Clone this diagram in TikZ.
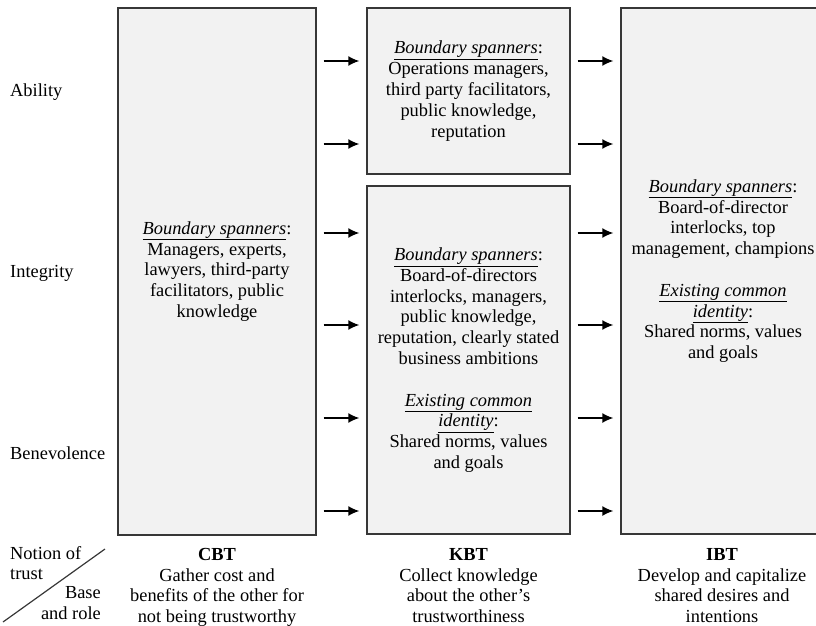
\documentclass[tikz,border=0pt]{standalone}
\usepackage{fontspec}
\setmainfont{Liberation Serif}
\usepackage{tikz}
\usetikzlibrary{arrows.meta,positioning,calc}
\definecolor{boxgray}{RGB}{242,242,242}
\definecolor{edgegray}{RGB}{55,55,55}
\tikzset{
  box/.style={draw=edgegray, fill=boxgray, line width=1.4pt, align=center, inner sep=0pt},
  arrow/.style={-{Latex[length=11pt,width=10pt]}, line width=1.4pt, shorten <=7pt, shorten >=7pt},
  lbl/.style={align=center, inner sep=0pt},
  rowlbl/.style={anchor=west, inner sep=0pt}
}
\newcommand{\spanners}{\underline{\textit{Boundary spanners}}:}
\newcommand{\identity}{\underline{\textit{Existing common}}\\\underline{\textit{identity}}:}

\begin{document}
\begin{tikzpicture}[x=1pt, y=-1pt, font=\fontsize{18.4pt}{20.8pt}\selectfont]
\useasboundingbox (0,0) rectangle (816,626);
\clip (0,0) rectangle (816,626);
% boxes
\node[box, minimum width=198pt, minimum height=527pt] (cbt) at (217,271.5)
  {\spanners\\Managers, experts,\\lawyers, third-party\\facilitators, public\\knowledge};
\node[box, minimum width=203pt, minimum height=166pt] (kbta) at (468.5,91)
  {\spanners\\Operations managers,\\third party facilitators,\\public knowledge,\\reputation};
\node[box, minimum width=203pt, minimum height=348pt] (kbtb) at (468.5,360)
  {\spanners\\Board-of-directors\\interlocks, managers,\\public knowledge,\\reputation, clearly stated\\business ambitions\\[20.8pt]\identity\\Shared norms, values\\and goals};
\node[box, minimum width=204pt, minimum height=526pt] (ibt) at (723,271)
  {\spanners\\Board-of-director\\interlocks, top\\management, champions\\[20.8pt]\identity\\Shared norms, values\\and goals};
% rows
\node[rowlbl] (ability) at (10,92) {Ability};
\node[rowlbl] (integrity) at (10,273) {Integrity};
\node[rowlbl] (benevolence) at (10,453) {Benevolence};
% arrows
\foreach \y [count=\i] in {61,144,233,325,418,511}
  \coordinate (row\i) at (0,\y);
\foreach \i in {1,...,6} {
  \draw[arrow] (cbt.east |- row\i) -- (kbtb.west |- row\i);
  \draw[arrow] (kbtb.east |- row\i) -- (ibt.west |- row\i);
}
% bottom labels
\node[lbl, anchor=north] (cbtlbl) at (217,548) {\textbf{CBT}\\Gather cost and\\benefits of the other for\\not being trustworthy};
\node[lbl, anchor=north] (kbtlbl) at (468.5,548) {\textbf{KBT}\\Collect knowledge\\about the other’s\\trustworthiness};
\node[lbl, anchor=north] (ibtlbl) at (722,548) {\textbf{IBT}\\Develop and capitalize\\shared desires and\\intentions};
% corner
\coordinate (diagA) at (3,622);
\coordinate (diagB) at (105,549);
\draw[line width=1.2pt, edgegray] (diagA) -- (diagB);
\node[lbl, align=left, anchor=north west] (notion) at (10,546) {Notion of\\trust};
\node[lbl, align=right, anchor=south east] (base) at (101,620) {Base\\and role};
\end{tikzpicture}
\end{document}
